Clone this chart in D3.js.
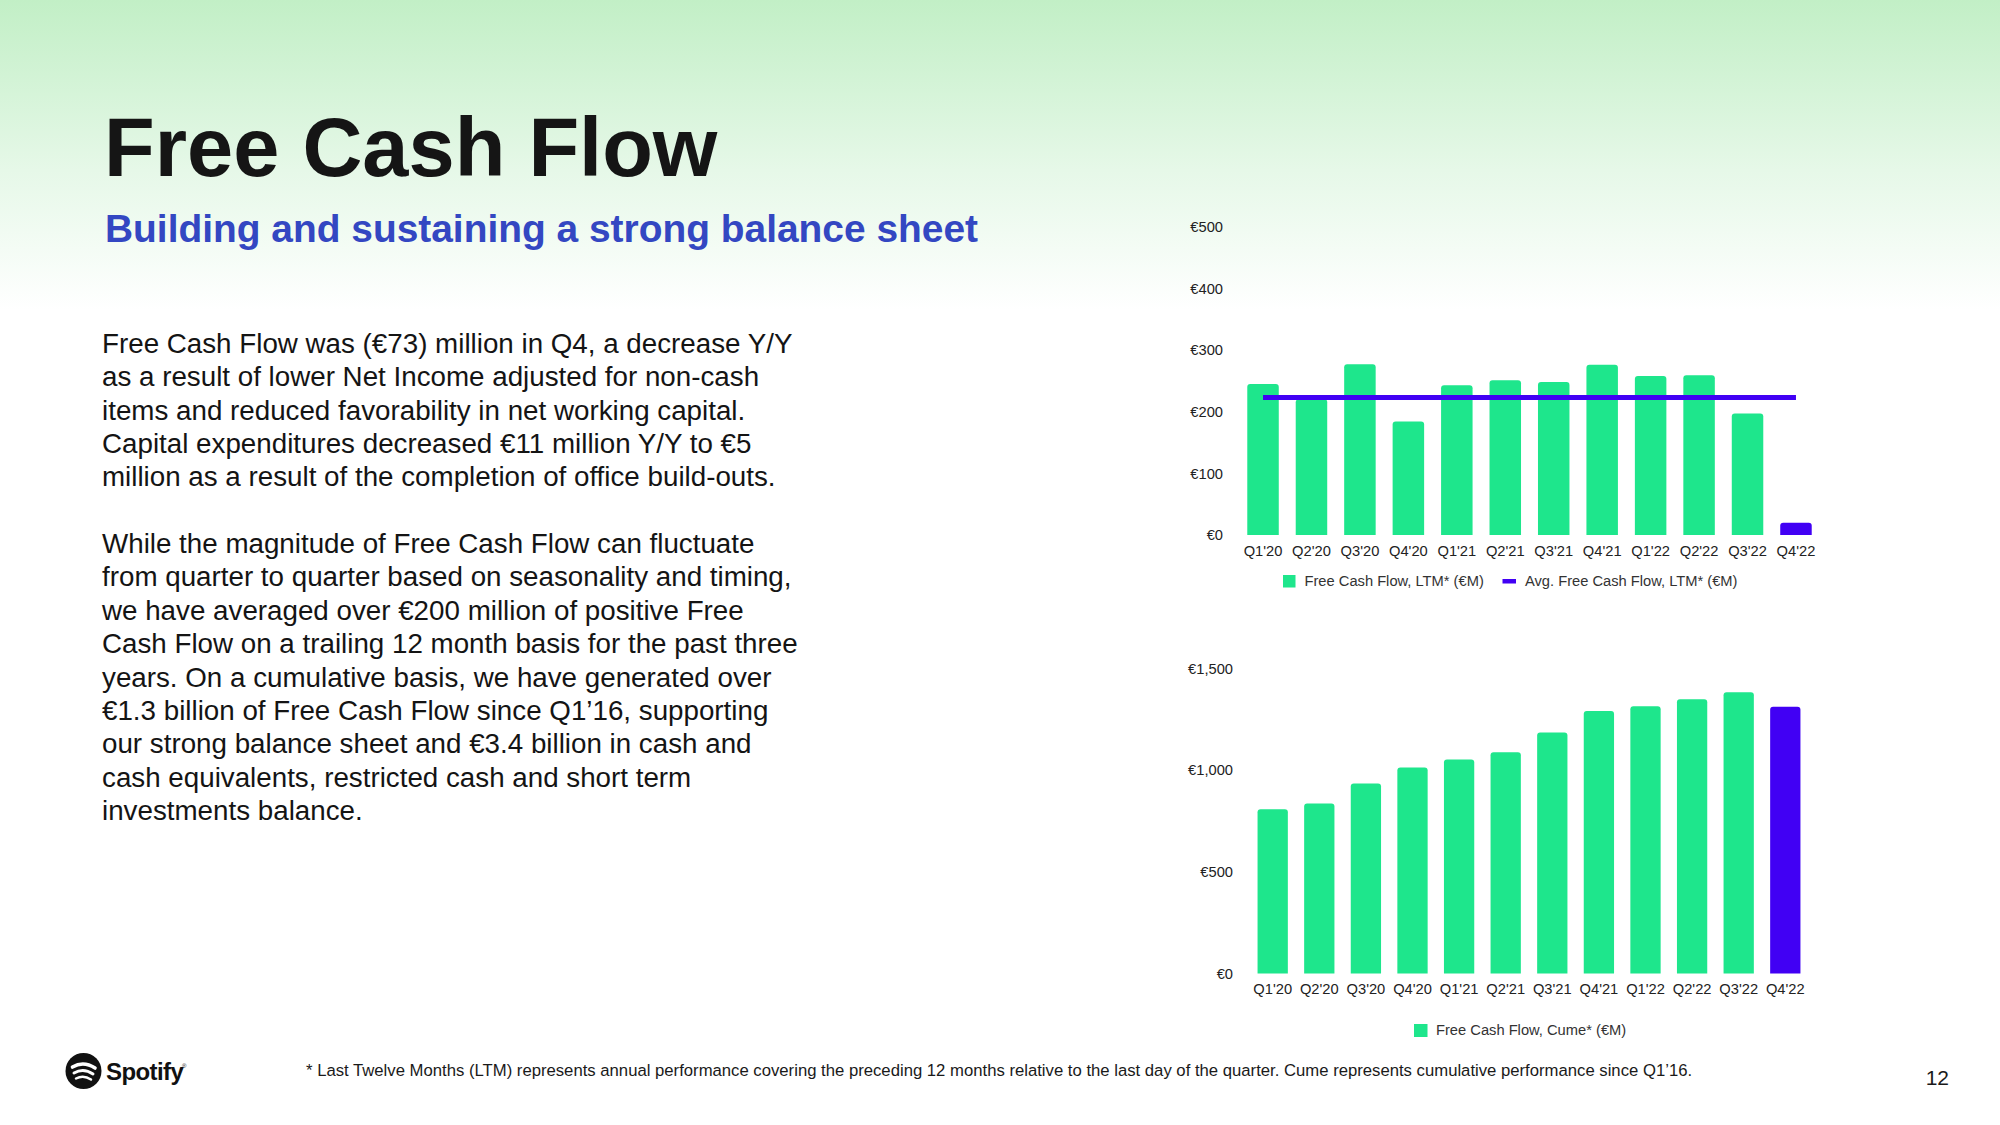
<!DOCTYPE html>
<html>
<head>
<meta charset="utf-8">
<script src="https://cdn.jsdelivr.net/npm/d3@7"></script>
<style>
  html, body { margin: 0; padding: 0; background: #fff; }
  svg { display: block; }
  text { font-family: "Liberation Sans", Arial, Helvetica, sans-serif; }
</style>
</head>
<body>
<script>
// ---------- DATA ----------
const quarters = ["Q1'20","Q2'20","Q3'20","Q4'20","Q1'21","Q2'21","Q3'21","Q4'21","Q1'22","Q2'22","Q3'22","Q4'22"];
const fcfLTM = [245, 220, 277, 184, 243, 251, 248, 276, 258, 259, 197, 20];
const avgFcfLTM = 223;
const fcfCume = [807, 836, 934, 1013, 1052, 1087, 1185, 1290, 1313, 1348, 1382, 1311];
const topTicks = [0, 100, 200, 300, 400, 500];
const bottomTicks = [0, 500, 1000, 1500];
const legendTop = ["Free Cash Flow, LTM* (€M)", "Avg. Free Cash Flow, LTM* (€M)"];
const legendBottom = ["Free Cash Flow, Cume* (€M)"];
const titleText = "Free Cash Flow";
const subtitleText = "Building and sustaining a strong balance sheet";
const bodyLines = [
  "Free Cash Flow was (€73) million in Q4, a decrease Y/Y",
  "as a result of lower Net Income adjusted for non-cash",
  "items and reduced favorability in net working capital.",
  "Capital expenditures decreased €11 million Y/Y to €5",
  "million as a result of the completion of office build-outs.",
  "",
  "While the magnitude of Free Cash Flow can fluctuate",
  "from quarter to quarter based on seasonality and timing,",
  "we have averaged over €200 million of positive Free",
  "Cash Flow on a trailing 12 month basis for the past three",
  "years. On a cumulative basis, we have generated over",
  "€1.3 billion of Free Cash Flow since Q1’16, supporting",
  "our strong balance sheet and €3.4 billion in cash and",
  "cash equivalents, restricted cash and short term",
  "investments balance."
];
const footnote = "* Last Twelve Months (LTM) represents annual performance covering the preceding 12 months relative to the last day of the quarter. Cume represents cumulative performance since Q1’16.";
const pageNumber = "12";

// ---------- STYLE ----------
const GREEN = "#1ee68c";
const PURPLE = "#4100f4";
const W = 2000, H = 1125;

const svg = d3.select("body").append("svg").attr("width", W).attr("height", H);
const defs = svg.append("defs");
const grad = defs.append("linearGradient").attr("id", "bg").attr("x1", 0).attr("y1", 0).attr("x2", 0).attr("y2", 1);
grad.append("stop").attr("offset", "0%").attr("stop-color", "#c2efc6");
grad.append("stop").attr("offset", "55%").attr("stop-color", "#e6f8e8");
grad.append("stop").attr("offset", "100%").attr("stop-color", "#ffffff");
svg.append("rect").attr("width", W).attr("height", H).attr("fill", "#fff");
svg.append("rect").attr("width", W).attr("height", 310).attr("fill", "url(#bg)");

// Title & subtitle
svg.append("text").attr("x", 104).attr("y", 176).attr("font-size", 83).attr("font-weight", "bold")
  .attr("fill", "#151515").text(titleText);
svg.append("text").attr("x", 105).attr("y", 242).attr("font-size", 38.9).attr("font-weight", "bold")
  .attr("fill", "#3347c2").text(subtitleText);

// Body text
svg.append("g").selectAll("text").data(bodyLines).join("text")
  .attr("x", 102).attr("y", (d, i) => 353 + i * 33.35)
  .attr("font-size", 27.75).attr("fill", "#141414").text(d => d);

// Footer
svg.append("text").attr("x", 306).attr("y", 1076).attr("font-size", 16.7).attr("fill", "#1a1a1a").text(footnote);
svg.append("text").attr("x", 1949).attr("y", 1085).attr("text-anchor", "end").attr("font-size", 21).attr("fill", "#1a1a1a").text(pageNumber);

// Spotify logo
const lg = svg.append("g");
const cx = 83.5, cy = 1071, r = 18;
lg.append("circle").attr("cx", cx).attr("cy", cy).attr("r", r).attr("fill", "#111");
const arcs = [
  {d: `M${cx-11},${cy-4} Q${cx},${cy-10.5} ${cx+11.5},${cy-3}`, w: 3.6},
  {d: `M${cx-9.5},${cy+2} Q${cx},${cy-3.5} ${cx+9.5},${cy+3}`, w: 3.0},
  {d: `M${cx-7.5},${cy+7.5} Q${cx},${cy+3.5} ${cx+7.5},${cy+8.5}`, w: 2.5}
];
lg.selectAll("path").data(arcs).join("path").attr("d", d => d.d).attr("fill", "none")
  .attr("stroke", "#fff").attr("stroke-width", d => d.w).attr("stroke-linecap", "round");
lg.append("text").attr("x", 106).attr("y", 1080).attr("font-size", 24).attr("font-weight", "bold")
  .attr("letter-spacing", -0.6).attr("fill", "#111").text("Spotify");
lg.append("text").attr("x", 182).attr("y", 1068).attr("font-size", 6).attr("fill", "#111").text("®");

// bar path with rounded top corners
function barPath(x, y, w, h, rr) {
  rr = Math.min(rr, h / 2, w / 2);
  return `M${x},${y + h} L${x},${y + rr} Q${x},${y} ${x + rr},${y} L${x + w - rr},${y} Q${x + w},${y} ${x + w},${y + rr} L${x + w},${y + h} Z`;
}

const tickFont = g => g.selectAll("text").attr("font-size", 14.7).attr("fill", "#222")
  .attr("font-family", "Liberation Sans, Arial, sans-serif");

// ---------- TOP CHART ----------
const xTop = d3.scaleBand().domain(quarters).range([1238.8, 1820.2]).paddingInner(0.35).paddingOuter(0.175);
const yTop = d3.scaleLinear().domain([0, 500]).range([535, 226.7]);
const gTop = svg.append("g");

const yAxisTop = d3.axisLeft(yTop).tickValues(topTicks).tickSize(0).tickPadding(0)
  .tickFormat(d => "€" + d3.format(",")(d));
gTop.append("g").attr("transform", "translate(1223,0)").call(yAxisTop)
  .call(g => g.select(".domain").remove()).call(tickFont);

gTop.selectAll("path.bar").data(quarters).join("path").attr("class", "bar")
  .attr("d", (q, i) => barPath(xTop(q), yTop(fcfLTM[i]), xTop.bandwidth(), yTop(0) - yTop(fcfLTM[i]), 3))
  .attr("fill", (q, i) => i === quarters.length - 1 ? PURPLE : GREEN);

gTop.append("line")
  .attr("x1", xTop(quarters[0]) + xTop.bandwidth() / 2)
  .attr("x2", xTop(quarters[quarters.length - 1]) + xTop.bandwidth() / 2)
  .attr("y1", yTop(avgFcfLTM)).attr("y2", yTop(avgFcfLTM))
  .attr("stroke", PURPLE).attr("stroke-width", 5);

const xAxisTop = d3.axisBottom(xTop).tickSize(0).tickPadding(0);
gTop.append("g").attr("transform", "translate(0,556)").call(xAxisTop)
  .call(g => g.select(".domain").remove()).call(tickFont)
  .call(g => g.selectAll("text").attr("dy", 0));

// top legend
const lt = gTop.append("g");
lt.append("rect").attr("x", 1283).attr("y", 575).attr("width", 12.5).attr("height", 12.5).attr("fill", GREEN);
lt.append("text").attr("x", 1304.5).attr("y", 586).attr("font-size", 14.7).attr("fill", "#333").text(legendTop[0]);
lt.append("rect").attr("x", 1502.5).attr("y", 579).attr("width", 13.5).attr("height", 4.5).attr("fill", PURPLE);
lt.append("text").attr("x", 1525).attr("y", 586).attr("font-size", 14.7).attr("fill", "#333").text(legendTop[1]);

// ---------- BOTTOM CHART ----------
const xBot = d3.scaleBand().domain(quarters).range([1249.4, 1808.6]).paddingInner(0.35).paddingOuter(0.175);
const yBot = d3.scaleLinear().domain([0, 1500]).range([973.5, 668.3]);
const gBot = svg.append("g");

const yAxisBot = d3.axisLeft(yBot).tickValues(bottomTicks).tickSize(0).tickPadding(0)
  .tickFormat(d => "€" + d3.format(",")(d));
gBot.append("g").attr("transform", "translate(1233,0)").call(yAxisBot)
  .call(g => g.select(".domain").remove()).call(tickFont);

gBot.selectAll("path.bar").data(quarters).join("path").attr("class", "bar")
  .attr("d", (q, i) => barPath(xBot(q), yBot(fcfCume[i]), xBot.bandwidth(), yBot(0) - yBot(fcfCume[i]), 3))
  .attr("fill", (q, i) => i === quarters.length - 1 ? PURPLE : GREEN);

const xAxisBot = d3.axisBottom(xBot).tickSize(0).tickPadding(0);
gBot.append("g").attr("transform", "translate(0,994)").call(xAxisBot)
  .call(g => g.select(".domain").remove()).call(tickFont)
  .call(g => g.selectAll("text").attr("dy", 0));

const lb = gBot.append("g");
lb.append("rect").attr("x", 1414).attr("y", 1024).attr("width", 13.5).attr("height", 13).attr("fill", GREEN);
lb.append("text").attr("x", 1436).attr("y", 1035).attr("font-size", 14.7).attr("fill", "#333").text(legendBottom[0]);
</script>
</body>
</html>
